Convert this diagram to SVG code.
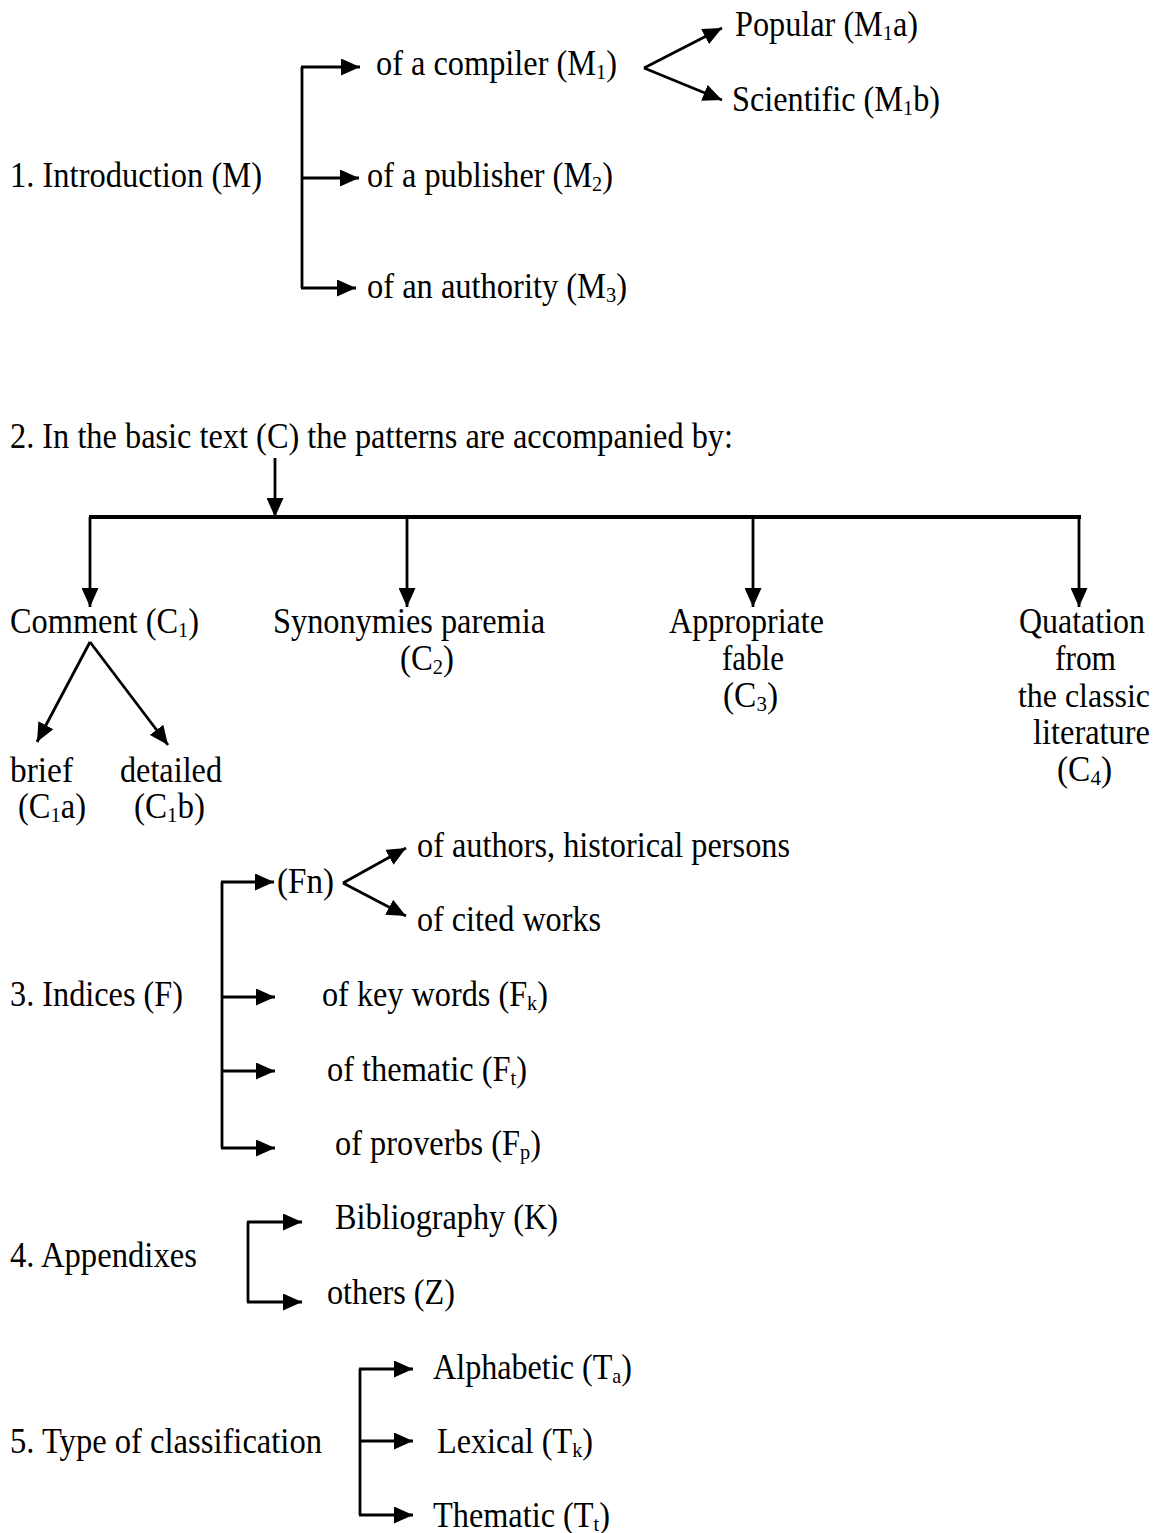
<svg xmlns="http://www.w3.org/2000/svg" width="1158" height="1533" viewBox="0 0 1158 1533">
  <style>
    text { font-family: "Liberation Serif", "Times New Roman", serif; font-size: 35px; fill: #000; }
    .sub { font-size: 22px; }
    .ln { fill: none; stroke: #000; stroke-width: 2.8; }
    .arr { fill: none; stroke: #000; stroke-width: 2.8; marker-end: url(#head); }
    .bar { fill: none; stroke: #000; stroke-width: 4; }
  </style>
  <defs>
    <marker id="head" markerUnits="userSpaceOnUse" markerWidth="21" markerHeight="17" refX="19" refY="8.5" orient="auto">
      <path d="M0,0 L19,8.5 L0,17 z" fill="#000"/>
    </marker>
  </defs>
  <rect width="1158" height="1533" fill="#fff"/>

  <!-- connectors -->
  <g id="connectors">
    <!-- 1. Introduction -->
    <path class="ln" d="M302,67 V288"/>
    <path class="arr" d="M301,67 H360"/>
    <path class="arr" d="M301,178 H359"/>
    <path class="arr" d="M301,288 H356"/>
    <path class="arr" d="M644,68 L722,28"/>
    <path class="arr" d="M644,68 L722,100"/>
    <!-- 2. Basic text -->
    <path class="arr" d="M275,458 V517"/>
    <path class="bar" d="M89,517 H1081"/>
    <path class="arr" d="M90,517 V607"/>
    <path class="arr" d="M407,517 V607"/>
    <path class="arr" d="M753,517 V607"/>
    <path class="arr" d="M1079,517 V607"/>
    <path class="arr" d="M90,642 L37,742"/>
    <path class="arr" d="M90,642 L168,745"/>
    <!-- 3. Indices -->
    <path class="ln" d="M222,882 V1148"/>
    <path class="arr" d="M221,882 H274"/>
    <path class="arr" d="M221,997 H275"/>
    <path class="arr" d="M221,1071 H275"/>
    <path class="arr" d="M221,1148 H275"/>
    <path class="arr" d="M343,883 L406,848"/>
    <path class="arr" d="M343,883 L406,916"/>
    <!-- 4. Appendixes -->
    <path class="ln" d="M248,1222 V1302"/>
    <path class="arr" d="M247,1222 H302"/>
    <path class="arr" d="M247,1302 H302"/>
    <!-- 5. Type of classification -->
    <path class="ln" d="M360,1369 V1515"/>
    <path class="arr" d="M359,1369 H413"/>
    <path class="arr" d="M359,1441 H413"/>
    <path class="arr" d="M359,1515 H413"/>
  </g>

  <!-- 1. Introduction -->
  <g id="intro">
    <text x="10" y="187" textLength="252" lengthAdjust="spacingAndGlyphs">1. Introduction (M)</text>
  </g>
  <g id="compiler">
    <text x="376" y="75" textLength="241" lengthAdjust="spacingAndGlyphs">of a compiler (M<tspan class="sub" dy="4">1</tspan><tspan dy="-4">)</tspan></text>
  </g>
  <g id="popular">
    <text x="735" y="36" textLength="183" lengthAdjust="spacingAndGlyphs">Popular (M<tspan class="sub" dy="4">1</tspan><tspan dy="-4">a)</tspan></text>
  </g>
  <g id="scientific">
    <text x="732" y="111" textLength="208" lengthAdjust="spacingAndGlyphs">Scientific (M<tspan class="sub" dy="4">1</tspan><tspan dy="-4">b)</tspan></text>
  </g>
  <g id="publisher">
    <text x="367" y="187" textLength="246" lengthAdjust="spacingAndGlyphs">of a publisher (M<tspan class="sub" dy="4">2</tspan><tspan dy="-4">)</tspan></text>
  </g>
  <g id="authority">
    <text x="367" y="298" textLength="260" lengthAdjust="spacingAndGlyphs">of an authority (M<tspan class="sub" dy="4">3</tspan><tspan dy="-4">)</tspan></text>
  </g>

  <!-- 2. Basic text -->
  <g id="basic-text">
    <text x="10" y="448" textLength="723" lengthAdjust="spacingAndGlyphs">2. In the basic text (C) the patterns are accompanied by:</text>
  </g>
  <g id="comment">
    <text x="10" y="633" textLength="189" lengthAdjust="spacingAndGlyphs">Comment (C<tspan class="sub" dy="4">1</tspan><tspan dy="-4">)</tspan></text>
  </g>
  <g id="synonymies">
    <text x="273" y="633" textLength="272" lengthAdjust="spacingAndGlyphs">Synonymies paremia</text>
    <text x="400" y="670" textLength="54" lengthAdjust="spacingAndGlyphs">(C<tspan class="sub" dy="4">2</tspan><tspan dy="-4">)</tspan></text>
  </g>
  <g id="fable">
    <text x="669" y="633" textLength="155" lengthAdjust="spacingAndGlyphs">Appropriate</text>
    <text x="722" y="670" textLength="62" lengthAdjust="spacingAndGlyphs">fable</text>
    <text x="723" y="707" textLength="55" lengthAdjust="spacingAndGlyphs">(C<tspan class="sub" dy="4">3</tspan><tspan dy="-4">)</tspan></text>
  </g>
  <g id="quotation">
    <text x="1019" y="633" textLength="126" lengthAdjust="spacingAndGlyphs">Quatation</text>
    <text x="1055" y="670" textLength="61" lengthAdjust="spacingAndGlyphs">from</text>
    <text x="1018" y="707" font-size="33" textLength="132" lengthAdjust="spacingAndGlyphs" style="font-size:33px">the classic</text>
    <text x="1033" y="744" textLength="117" lengthAdjust="spacingAndGlyphs">literature</text>
    <text x="1057" y="781" textLength="55" lengthAdjust="spacingAndGlyphs">(C<tspan class="sub" dy="4">4</tspan><tspan dy="-4">)</tspan></text>
  </g>
  <g id="brief">
    <text x="10" y="782" textLength="63" lengthAdjust="spacingAndGlyphs">brief</text>
    <text x="18" y="818" textLength="68" lengthAdjust="spacingAndGlyphs">(C<tspan class="sub" dy="4">1</tspan><tspan dy="-4">a)</tspan></text>
  </g>
  <g id="detailed">
    <text x="120" y="782" textLength="102" lengthAdjust="spacingAndGlyphs">detailed</text>
    <text x="134" y="818" textLength="71" lengthAdjust="spacingAndGlyphs">(C<tspan class="sub" dy="4">1</tspan><tspan dy="-4">b)</tspan></text>
  </g>

  <!-- 3. Indices -->
  <g id="indices">
    <text x="10" y="1006" textLength="173" lengthAdjust="spacingAndGlyphs">3. Indices (F)</text>
  </g>
  <g id="fn">
    <text x="277" y="893" textLength="57" lengthAdjust="spacingAndGlyphs">(Fn)</text>
  </g>
  <g id="authors">
    <text x="417" y="857" textLength="373" lengthAdjust="spacingAndGlyphs">of authors, historical persons</text>
  </g>
  <g id="cited-works">
    <text x="417" y="931" textLength="184" lengthAdjust="spacingAndGlyphs">of cited works</text>
  </g>
  <g id="key-words">
    <text x="322" y="1006" textLength="226" lengthAdjust="spacingAndGlyphs">of key words (F<tspan class="sub" dy="4">k</tspan><tspan dy="-4">)</tspan></text>
  </g>
  <g id="thematic-index">
    <text x="327" y="1081" textLength="200" lengthAdjust="spacingAndGlyphs">of thematic (F<tspan class="sub" dy="4">t</tspan><tspan dy="-4">)</tspan></text>
  </g>
  <g id="proverbs">
    <text x="335" y="1155" textLength="206" lengthAdjust="spacingAndGlyphs">of proverbs (F<tspan class="sub" dy="4">p</tspan><tspan dy="-4">)</tspan></text>
  </g>

  <!-- 4. Appendixes -->
  <g id="appendixes">
    <text x="10" y="1267" textLength="187" lengthAdjust="spacingAndGlyphs">4. Appendixes</text>
  </g>
  <g id="bibliography">
    <text x="335" y="1229" textLength="223" lengthAdjust="spacingAndGlyphs">Bibliography (K)</text>
  </g>
  <g id="others">
    <text x="327" y="1304" textLength="128" lengthAdjust="spacingAndGlyphs">others (Z)</text>
  </g>

  <!-- 5. Type of classification -->
  <g id="classification">
    <text x="10" y="1453" textLength="312" lengthAdjust="spacingAndGlyphs">5. Type of classification</text>
  </g>
  <g id="alphabetic">
    <text x="433" y="1379" textLength="199" lengthAdjust="spacingAndGlyphs">Alphabetic (T<tspan class="sub" dy="4">a</tspan><tspan dy="-4">)</tspan></text>
  </g>
  <g id="lexical">
    <text x="437" y="1453" textLength="156" lengthAdjust="spacingAndGlyphs">Lexical (T<tspan class="sub" dy="4">k</tspan><tspan dy="-4">)</tspan></text>
  </g>
  <g id="thematic">
    <text x="433" y="1527" textLength="177" lengthAdjust="spacingAndGlyphs">Thematic (T<tspan class="sub" dy="4">t</tspan><tspan dy="-4">)</tspan></text>
  </g>
</svg>
